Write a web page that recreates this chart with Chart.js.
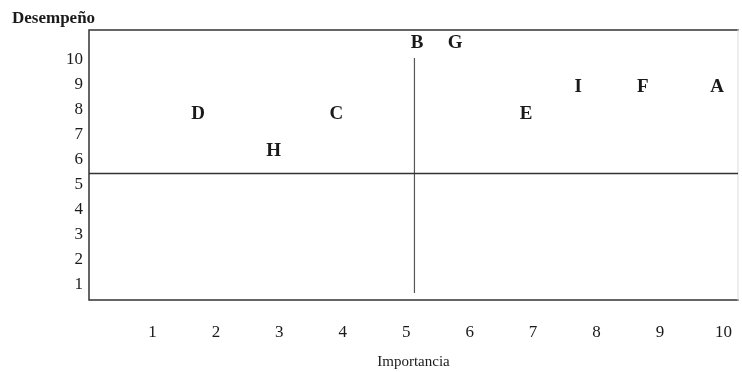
<!DOCTYPE html>
<html>
<head>
<meta charset="utf-8">
<script src="https://cdn.jsdelivr.net/npm/chart.js@4.4.0/dist/chart.umd.min.js"></script>
<style>
  html, body { margin: 0; padding: 0; background: #ffffff; }
  #wrap { width: 742px; height: 372px; }
</style>
</head>
<body>
<div id="wrap"><canvas id="c" width="742" height="372"></canvas></div>
<script>
// ---- data ----
const letras = ['A', 'B', 'C', 'D', 'E', 'F', 'G', 'H', 'I'];
const importancia = [9.90, 5.17, 3.90, 1.72, 6.89, 8.73, 5.77, 2.91, 7.71];
const desempeno  = [8.96, 10.72, 7.88, 7.88, 7.88, 8.96, 10.72, 6.40, 8.96];
const xTicks = [1, 2, 3, 4, 5, 6, 7, 8, 9, 10];
const yTicks = [1, 2, 3, 4, 5, 6, 7, 8, 9, 10];
const corteDesempeno = 5.46;      // horizontal divider
const corteImportancia = 5.13;    // vertical divider
const verticalDesde = [0.68, 10.08];
const xRange = [0, 10.23];
const yRange = [0.4, 11.2];

const serif = "'Liberation Serif', 'DejaVu Serif', 'Times New Roman', serif";
const ink = '#1a1a1a';

const points = letras.map((l, i) => ({ x: importancia[i], y: desempeno[i] }));

const frame = {
  id: 'frame',
  beforeDatasetsDraw(chart) {
    const { ctx, chartArea: a } = chart;
    ctx.save();
    ctx.lineCap = 'square';
    ctx.strokeStyle = '#333';
    ctx.lineWidth = 1.5;
    ctx.beginPath();
    ctx.moveTo(a.right, a.top); ctx.lineTo(a.left, a.top);
    ctx.lineTo(a.left, a.bottom); ctx.lineTo(a.right, a.bottom);
    ctx.stroke();
    ctx.strokeStyle = '#dcdcdc';
    ctx.lineWidth = 1;
    ctx.beginPath();
    ctx.moveTo(a.right, a.top); ctx.lineTo(a.right, a.bottom);
    ctx.stroke();
    ctx.restore();
  }
};

const letterLabels = {
  id: 'letterLabels',
  afterDatasetsDraw(chart) {
    const meta = chart.getDatasetMeta(2);
    const { ctx } = chart;
    ctx.save();
    ctx.fillStyle = ink;
    ctx.font = "bold 19px " + serif;
    ctx.textAlign = 'center';
    ctx.textBaseline = 'middle';
    meta.data.forEach((el, i) => {
      ctx.fillText(letras[i], el.x, el.y + 1);
    });
    ctx.restore();
  }
};

new Chart(document.getElementById('c'), {
  type: 'scatter',
  data: {
    datasets: [
      {
        type: 'line',
        data: [{ x: xRange[0], y: corteDesempeno }, { x: xRange[1], y: corteDesempeno }],
        borderColor: '#333', borderWidth: 1.5, pointRadius: 0, fill: false
      },
      {
        type: 'line',
        data: [{ x: corteImportancia, y: verticalDesde[0] }, { x: corteImportancia, y: verticalDesde[1] }],
        borderColor: '#555', borderWidth: 1.2, pointRadius: 0, fill: false
      },
      {
        data: points,
        pointRadius: 0,
        pointHoverRadius: 0
      }
    ]
  },
  options: {
    responsive: false,
    animation: false,
    events: [],
    layout: { padding: { left: 12, right: 4, top: 0, bottom: 0 } },
    plugins: {
      legend: { display: false },
      tooltip: { enabled: false },
      title: {
        display: true,
        text: 'Desempeño',
        align: 'start',
        color: ink,
        font: { family: serif, size: 17, weight: 'bold', lineHeight: 1.2 },
        padding: { top: 8, bottom: 1.6 }
      }
    },
    scales: {
      x: {
        type: 'linear',
        min: xRange[0], max: xRange[1],
        grid: { display: false, drawTicks: false },
        border: { display: false },
        afterBuildTicks(scale) { scale.ticks = xTicks.map(v => ({ value: v })); },
        afterFit(scale) { scale.height = 72; scale.paddingLeft = 0; scale.paddingRight = 0; },
        ticks: {
          color: ink, padding: 22, maxRotation: 0,
          font: { family: serif, size: 17 },
          callback: v => String(v)
        },
        title: {
          display: true, text: 'Importancia', color: ink,
          font: { family: serif, size: 15, lineHeight: 1.2 },
          padding: { top: 0, bottom: 1 }
        }
      },
      y: {
        type: 'linear',
        min: yRange[0], max: yRange[1],
        grid: { display: false, drawTicks: false },
        border: { display: false },
        afterBuildTicks(scale) { scale.ticks = yTicks.map(v => ({ value: v })); },
        afterFit(scale) { scale.width = 77; scale.paddingTop = 0; scale.paddingBottom = 0; },
        ticks: {
          color: ink, padding: 6,
          font: { family: serif, size: 17 },
          callback: v => String(v)
        }
      }
    }
  },
  plugins: [frame, letterLabels]
});
</script>
</body>
</html>
